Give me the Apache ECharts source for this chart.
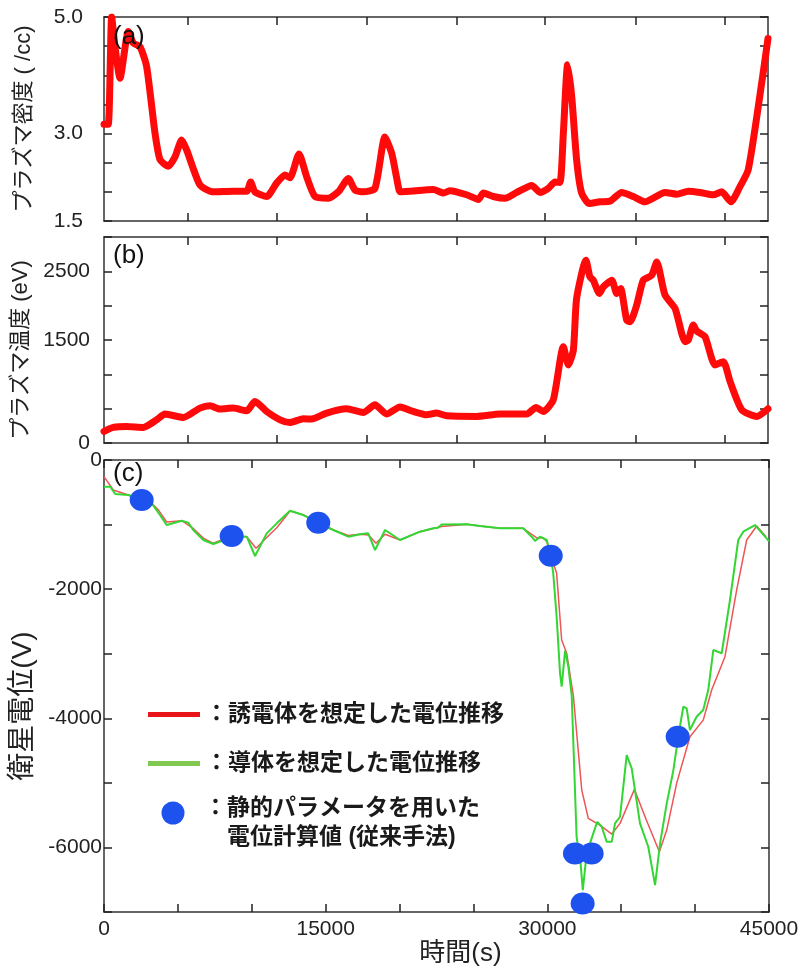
<!DOCTYPE html>
<html>
<head>
<meta charset="utf-8">
<script src="https://cdn.jsdelivr.net/npm/echarts@6/dist/echarts.min.js"></script>
<style>
html,body{margin:0;padding:0;background:#fff;}
#chart{width:803px;height:970px;}
</style>
</head>
<body>
<div id="chart"></div>
<script>
// ---- (a) plasma density ----
const timeDensity = [0,290,520,745,1085,1650,1990,2440,2890,3460,3800,4360,4810,5265,5600,6500,7410,8760,9670,9940,10230,11025,11700,12265,12600,13215,13735,14300,15200,15880,16560,17010,17570,18365,19040,19500,19945,20060,22320,23000,23460,24580,25370,25710,26380,27180,27970,28990,29550,30110,30570,30900,31130,31420,31700,32030,32370,32890,33610,34290,35080,35870,36660,38020,38810,39600,40390,41290,41860,42490,43100,43660,44340,45000];
const density = [3.16,3.16,5.0,4.49,3.95,4.75,4.55,4.49,4.15,3.0,2.55,2.44,2.6,2.89,2.72,2.12,2.0,2.01,2.01,2.17,2.0,1.92,2.15,2.29,2.24,2.65,2.26,1.92,1.89,2.0,2.23,2.03,2.0,2.06,2.94,2.66,2.09,2.0,2.04,1.98,2.02,1.95,1.87,1.98,1.92,1.89,1.99,2.11,1.99,2.06,2.17,2.16,3.0,4.18,3.63,2.55,1.98,1.80,1.83,1.84,1.99,1.92,1.83,1.99,1.96,2.01,1.99,1.95,2.0,1.83,2.09,2.38,3.46,4.63];

// ---- (b) plasma temperature ----
const timeTemp = [0,630,1530,2660,3570,4130,5370,6500,7180,7860,8760,9670,10230,11025,11930,12600,13510,14070,15090,16450,17570,18365,19150,20060,20960,21870,22540,23220,25250,26840,28650,29280,29770,30450,31130,31470,31810,32030,32660,32930,33160,33570,33840,34410,34750,35010,35420,35650,36100,36550,37120,37460,38020,38700,39380,39600,39940,40170,40730,41410,41970,42430,43220,44240,45000];
const temperature = [169,227,241,227,338,421,372,508,542,494,508,469,604,459,338,299,353,348,436,498,444,556,421,525,459,411,436,396,387,421,421,517,459,629,1403,1137,1355,2105,2662,2419,2371,2178,2274,2371,2178,2250,1790,1766,2008,2371,2444,2637,2154,1960,1476,1500,1718,1631,1548,1137,1185,894,484,387,498];

// ---- (c) satellite potential ----
const timeDielectric = [0,630,1500,2550,3230,3700,4240,5260,6040,6720,7400,8640,9660,10290,11010,11690,12590,13490,14500,15520,16530,17320,17900,18400,19020,20030,21380,22280,22850,24540,25440,26800,28370,28940,29300,29700,29960,30230,30630,30970,31310,31760,32330,32770,33560,34360,34920,35890,36700,37580,38080,38750,39650,40550,41120,42020,42810,43490,44170,44800];
const potentialDielectric = [-258,-465,-530,-620,-671,-780,-960,-940,-1060,-1210,-1290,-1177,-1190,-1368,-1200,-1050,-790,-850,-971,-1084,-1170,-1151,-1160,-1290,-1150,-1239,-1110,-1060,-1030,-996,-1022,-1058,-1058,-1150,-1210,-1200,-1260,-1480,-1755,-2788,-2993,-3650,-5112,-5550,-5654,-5793,-5628,-5101,-5576,-6067,-5731,-5008,-4286,-4028,-3562,-3046,-2014,-1239,-1022,-1188];

const timeConductor = [0,420,760,1650,2550,3230,3790,4240,5260,5700,6040,6720,7400,8000,8640,9660,10220,11010,11690,12590,13490,14500,15520,16530,17320,17880,18340,19020,20030,21380,22280,22600,22850,24540,25440,26800,28370,28940,29170,29500,29960,30230,30400,30630,30860,30970,31200,31420,31650,31980,32250,32400,32660,33110,33380,33680,34020,34360,34580,34920,35370,35710,36270,36830,37290,37630,38080,38530,38860,39200,39430,39650,40100,40550,40890,41230,41800,42360,42920,43260,44050,44840,45000];
const potentialConductor = [-413,-413,-527,-542,-620,-671,-852,-1007,-940,-970,-1084,-1239,-1301,-1250,-1177,-1188,-1487,-1136,-981,-785,-852,-971,-1084,-1188,-1151,-1136,-1394,-1084,-1239,-1110,-1058,-1050,-1000,-996,-1022,-1058,-1058,-1188,-1254,-1188,-1239,-1482,-1755,-2427,-3304,-3510,-2952,-3200,-3650,-5836,-6248,-6660,-6093,-5783,-5603,-5680,-5913,-5913,-5628,-5525,-4570,-4776,-5628,-5990,-6583,-5938,-5318,-4802,-4286,-3821,-3846,-4182,-3976,-3872,-3562,-2943,-2993,-2168,-1239,-1110,-1007,-1213,-1260];

const staticTime = [2550,8640,14500,30230,31870,33000,32390,38820];
const staticPotential = [-620,-1177,-971,-1482,-6093,-6093,-6867,-4286];

// ---- tick positions / labels ----
const upperTimeTicks = [5672,11704,17804,23903,29887,36034,42087];
const densityLabels = [1.5,3.0,5.0];
const temperatureLabels = [0,1500,2500];
const potentialLabels = [0,-2000,-4000,-6000];
const timeLabels = [0,15000,30000,45000];

const seriesNames = ['誘電体を想定した電位推移','導体を想定した電位推移','静的パラメータを用いた電位計算値 (従来手法)'];
const legendLines = ['：静的パラメータを用いた','\u3000電位計算値 (従来手法)'];
const panelLabels = ['(a)','(b)','(c)'];

const zip = (a,b) => a.map((t,i)=>[t,b[i]]);
const NUM = "'Liberation Sans', Arial, sans-serif";
const MIX = "'Liberation Sans','Noto Sans CJK JP', sans-serif";
const AX = {color:'#333', width:1.5};
const TICK = {color:'#222', width:1.5};
const has = (arr,v) => arr.some(x => Math.abs(x - v) < 1e-6);

function xAx(grid, pos, opts){
  return Object.assign({
    gridIndex: grid, type:'value', position: pos, min:0, max:45000,
    axisLine:{show:true, onZero:false, lineStyle:AX},
    axisTick:{show:true, inside:true, length:8, lineStyle:TICK},
    axisLabel:{show:false},
    splitLine:{show:false}
  }, opts||{});
}
function yAx(grid, pos, min, max, interval, opts){
  return Object.assign({
    gridIndex: grid, type:'value', position: pos, min:min, max:max, interval:interval,
    axisLine:{show:true, onZero:false, lineStyle:AX},
    axisTick:{show:true, inside:true, length:8, lineStyle:TICK},
    axisLabel:{show:false},
    splitLine:{show:false}
  }, opts||{});
}

const labelStyle = {fontFamily:NUM, fontSize:21, color:'#222'};
const upperTick = {show:true, inside:true, length:8, lineStyle:TICK, customValues:upperTimeTicks};
const legendText = {fontFamily:MIX, fontSize:23, fontWeight:'bold', color:'#1a1a1a'};

const option = {
  backgroundColor:'#fff',
  animation:false,
  title: [
    {text:panelLabels[0], left:113, top:24, padding:0, textStyle:{fontFamily:NUM, fontSize:26, fontWeight:'normal', color:'#111'}},
    {text:panelLabels[1], left:113, top:243, padding:0, textStyle:{fontFamily:NUM, fontSize:26, fontWeight:'normal', color:'#111'}},
    {text:panelLabels[2], left:113, top:461, padding:0, textStyle:{fontFamily:NUM, fontSize:26, fontWeight:'normal', color:'#111'}}
  ],
  grid: [
    {left:104, right:35, top:17, height:204},
    {left:104, right:35, top:237, height:206},
    {left:104, right:34, top:460, height:452}
  ],
  xAxis: [
    xAx(0,'bottom',{axisTick:upperTick}),
    xAx(0,'top',{axisTick:upperTick}),
    xAx(1,'bottom',{axisTick:upperTick}),
    xAx(1,'top',{axisTick:upperTick}),
    xAx(2,'bottom',{interval:5000,
      axisLabel:Object.assign({show:true, margin:7, formatter:v=>has(timeLabels,v)?String(v):''}, labelStyle),
      name:'時間(s)', nameLocation:'middle', nameGap:26,
      nameTextStyle:{fontFamily:MIX, fontSize:26, color:'#222', padding:[0,0,0,48]}}),
    xAx(2,'top',{interval:5000})
  ],
  yAxis: [
    yAx(0,'left',1.5,5,0.5,{
      axisLabel:Object.assign({show:true, margin:21, formatter:v=>has(densityLabels,v)?v.toFixed(1):''}, labelStyle),
      name:'プラズマ密度 ( /cc)', nameLocation:'middle', nameGap:69, nameRotate:90,
      nameTextStyle:{fontFamily:MIX, fontSize:22, color:'#222'}}),
    yAx(0,'right',1.5,5,0.5),
    yAx(1,'left',0,3000,500,{
      axisLabel:Object.assign({show:true, margin:14, formatter:v=>has(temperatureLabels,v)?String(v):''}, labelStyle),
      name:'プラズマ温度 (eV)', nameLocation:'middle', nameGap:69, nameRotate:90,
      nameTextStyle:{fontFamily:MIX, fontSize:22, color:'#222', padding:[0,20,0,0]}}),
    yAx(1,'right',0,3000,500),
    yAx(2,'left',-7000,0,1000,{
      axisLabel:Object.assign({show:true, margin:2, formatter:v=>has(potentialLabels,v)?String(v):''}, labelStyle),
      name:'衛星電位(V)', nameLocation:'middle', nameGap:54, nameRotate:90,
      nameTextStyle:{fontFamily:MIX, fontSize:28, color:'#222', padding:[0,40,0,0]}}),
    yAx(2,'right',-7000,0,1000)
  ],
  legend: [
    {data:[seriesNames[0]], left:148, top:703, padding:0, icon:'rect', itemWidth:52, itemHeight:5,
     itemStyle:{color:'#e8141a'}, selectedMode:false,
     formatter:n=>'：'+n, textStyle:legendText},
    {data:[seriesNames[1]], left:148, top:752, padding:0, icon:'rect', itemWidth:52, itemHeight:5,
     itemStyle:{color:'#80c850'}, selectedMode:false,
     formatter:n=>'：'+n, textStyle:legendText},
    {data:[seriesNames[2]], left:161.5, top:779, padding:0, icon:'circle', itemWidth:52, itemHeight:23,
     itemStyle:{color:'#1d52ef'}, selectedMode:false,
     formatter:()=>'{p| }\n{t|'+legendLines[0]+'}\n{t|'+legendLines[1]+'}',
     textStyle:Object.assign({}, legendText, {rich:{
       p:{fontSize:10, lineHeight:21},
       t:Object.assign({lineHeight:29}, legendText)
     }})}
  ],
  series: [
    {type:'line', xAxisIndex:0, yAxisIndex:0, data:zip(timeDensity,density), symbol:'none', smooth:0.2,
     lineStyle:{color:'#ff0a0a', width:7, cap:'round', join:'round'}, silent:true},
    {type:'line', xAxisIndex:2, yAxisIndex:2, data:zip(timeTemp,temperature), symbol:'none', smooth:0.2,
     lineStyle:{color:'#ff0a0a', width:7, cap:'round', join:'round'}, silent:true},
    {name:seriesNames[0], type:'line', xAxisIndex:4, yAxisIndex:4, data:zip(timeDielectric,potentialDielectric), symbol:'none',
     itemStyle:{color:'#ee5555'}, lineStyle:{color:'#ee5555', width:1.5}, silent:true},
    {name:seriesNames[1], type:'line', xAxisIndex:4, yAxisIndex:4, data:zip(timeConductor,potentialConductor), symbol:'none',
     itemStyle:{color:'#33d633'}, lineStyle:{color:'#33d633', width:2}, silent:true},
    {name:seriesNames[2], type:'scatter', xAxisIndex:4, yAxisIndex:4, data:zip(staticTime,staticPotential),
     symbol:'circle', symbolSize:[24,22], itemStyle:{color:'#1d52ef', opacity:1}, silent:true, z:5}
  ]
};
const chart = echarts.init(document.getElementById('chart'), null, {renderer:'canvas'});
chart.setOption(option);
</script>
</body>
</html>
